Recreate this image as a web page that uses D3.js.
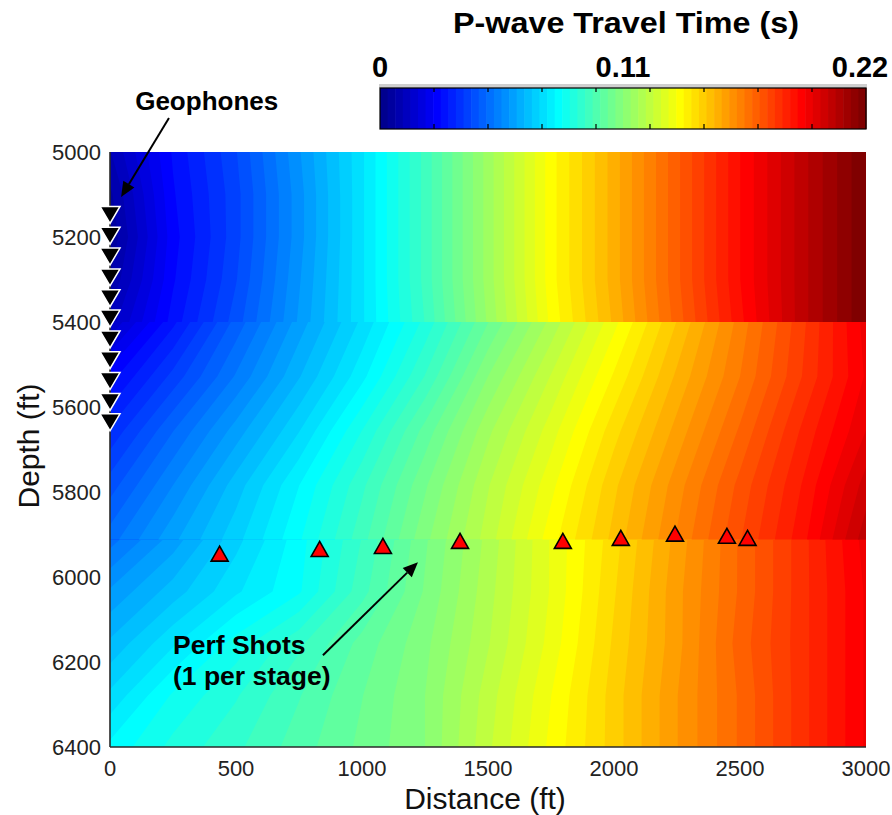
<!DOCTYPE html>
<html>
<head>
<meta charset="utf-8">
<script src="https://cdn.jsdelivr.net/npm/d3@7"></script>
<style>
  html, body { margin: 0; padding: 0; background: #fff; }
  svg { display: block; }
  text { font-family: "Liberation Sans", Arial, Helvetica, sans-serif; }
</style>
</head>
<body>
<svg id="chart" width="892" height="815"></svg>
<script>
// ---------------- data ----------------
const distanceFt = [0, 250, 500, 750, 1000, 1250, 1500, 1750, 2000, 2250, 2500, 2750, 3000];

// upper layer travel times (s), rows = depths
const upperDepths = [5000, 5100, 5200, 5300, 5400];
const upperTimes = [
  [0.010, 0.028, 0.041, 0.058, 0.075, 0.094, 0.115, 0.136, 0.153, 0.171, 0.189, 0.205, 0.220],
  [0.006, 0.027, 0.040, 0.057, 0.075, 0.094, 0.115, 0.136, 0.153, 0.171, 0.189, 0.205, 0.220],
  [0.004, 0.026, 0.040, 0.057, 0.075, 0.094, 0.115, 0.136, 0.153, 0.171, 0.189, 0.205, 0.220],
  [0.007, 0.027, 0.041, 0.058, 0.075, 0.094, 0.115, 0.136, 0.153, 0.171, 0.189, 0.205, 0.220],
  [0.012, 0.029, 0.043, 0.059, 0.075, 0.093, 0.114, 0.135, 0.152, 0.170, 0.188, 0.205, 0.220]
];

// middle layer
const middleDepths = [5400, 5528, 5656, 5784, 5912];
const middleTimes = [
  [0.014, 0.030, 0.046, 0.060, 0.073, 0.087, 0.103, 0.118, 0.133, 0.148, 0.163, 0.178, 0.194],
  [0.026, 0.039, 0.052, 0.065, 0.078, 0.093, 0.110, 0.124, 0.138, 0.152, 0.165, 0.179, 0.193],
  [0.035, 0.048, 0.060, 0.072, 0.086, 0.101, 0.116, 0.129, 0.143, 0.156, 0.169, 0.183, 0.196],
  [0.043, 0.055, 0.067, 0.079, 0.092, 0.106, 0.120, 0.133, 0.147, 0.160, 0.173, 0.186, 0.201],
  [0.050, 0.061, 0.071, 0.082, 0.095, 0.109, 0.122, 0.136, 0.149, 0.162, 0.175, 0.188, 0.205]
];

// lower layer
const lowerDepths = [5912, 6034, 6156, 6278, 6400];
const lowerTimes = [
  [0.050, 0.060, 0.071, 0.081, 0.093, 0.106, 0.118, 0.131, 0.143, 0.156, 0.169, 0.181, 0.194],
  [0.059, 0.067, 0.075, 0.082, 0.095, 0.107, 0.119, 0.131, 0.144, 0.157, 0.169, 0.181, 0.193],
  [0.066, 0.075, 0.084, 0.092, 0.101, 0.109, 0.120, 0.132, 0.145, 0.157, 0.170, 0.181, 0.193],
  [0.073, 0.083, 0.089, 0.096, 0.103, 0.110, 0.122, 0.134, 0.146, 0.158, 0.169, 0.181, 0.193],
  [0.080, 0.087, 0.092, 0.098, 0.104, 0.110, 0.123, 0.135, 0.146, 0.158, 0.169, 0.181, 0.193]
];

const geophoneDistance = [0, 0, 0, 0, 0, 0, 0, 0, 0, 0, 0];
const geophoneDepths = [5148, 5197, 5246, 5295, 5344, 5392, 5441, 5490, 5539, 5588, 5636];

const shotDistances = [435, 832, 1083, 1389, 1797, 2027, 2242, 2448, 2530];
const shotDepths = [5945, 5934, 5927, 5915, 5915, 5908, 5898, 5903, 5908];

const xTicks = [0, 500, 1000, 1500, 2000, 2500, 3000];
const yTicks = [5000, 5200, 5400, 5600, 5800, 6000, 6200, 6400];
const colorbarTicks = [0, 0.11, 0.22];
const timeMax = 0.22;
const nLevels = 64;

// ---------------- helpers ----------------
// MATLAB jet(64)
const jetU = [
  ...d3.range(1, 17).map(i => i / 16),
  ...Array(15).fill(1),
  ...d3.range(16, 0, -1).map(i => i / 16)
];
function jet64(k) {
  const i = k + 1;
  const get = idx => (idx >= 1 && idx <= jetU.length) ? jetU[idx - 1] : 0;
  return d3.rgb(255 * get(i - 24), 255 * get(i - 8), 255 * get(i + 8)).formatHex();
}

const svg = d3.select("#chart");
const x = d3.scaleLinear().domain([0, 3000]).range([110, 866]);
const y = d3.scaleLinear().domain([5000, 6400]).range([152, 747]);

const step = timeMax / nLevels;
const levels = d3.range(nLevels).map(k => k * step);

// detect sample placement convention of d3.contours
const probe = d3.contours().size([2, 1]).thresholds([0.5])([0, 1]);
let probeMin = Infinity;
probe[0].coordinates.forEach(poly => poly.forEach(ring => ring.forEach(p => { if (p[0] < probeMin) probeMin = p[0]; })));
const sampleOffset = probeMin - 0.5;

const defs = svg.append("defs");
const field = svg.append("g");

const layers = [
  { name: "lower", depths: lowerDepths, times: lowerTimes, extendTop: 1.2 },
  { name: "middle", depths: middleDepths, times: middleTimes, extendTop: 1.2 },
  { name: "upper", depths: upperDepths, times: upperTimes, extendTop: 0 }
];

layers.forEach(L => {
  const nx = distanceFt.length, ny = L.depths.length;
  const values = L.times.flat();
  const cs = d3.contours().size([nx, ny]).thresholds(levels)(values);
  const dX = distanceFt[1] - distanceFt[0];
  const dZ = (L.depths[ny - 1] - L.depths[0]) / (ny - 1);
  const proj = d3.geoTransform({
    point: function (px, py) {
      this.stream.point(
        x(distanceFt[0] + (px - sampleOffset) * dX),
        y(L.depths[0] + (py - sampleOffset) * dZ)
      );
    }
  });
  const path = d3.geoPath(proj);
  const clipId = "clip-" + L.name;
  const top = y(L.depths[0]) - L.extendTop;
  defs.append("clipPath").attr("id", clipId)
    .append("rect")
    .attr("x", x(0)).attr("y", top)
    .attr("width", x(3000) - x(0))
    .attr("height", y(L.depths[ny - 1]) - top);
  field.append("g").attr("clip-path", `url(#${clipId})`)
    .selectAll("path").data(cs).join("path")
    .attr("d", path)
    .attr("fill", d => jet64(Math.min(nLevels - 1, Math.round(d.value / step))))
    .attr("stroke", "none");
});

// axes lines
svg.append("line").attr("x1", x(0)).attr("x2", x(0)).attr("y1", y(5000)).attr("y2", y(6400))
  .attr("stroke", "#2a2a2a").attr("stroke-width", 1.6);
svg.append("line").attr("x1", x(0)).attr("x2", x(3000)).attr("y1", y(6400)).attr("y2", y(6400))
  .attr("stroke", "#2a2a2a").attr("stroke-width", 1.6);

// tick labels
svg.append("g").selectAll("text").data(xTicks).join("text")
  .attr("x", d => x(d)).attr("y", 776)
  .attr("text-anchor", "middle").attr("font-size", 22).attr("fill", "#222")
  .text(d => d);
svg.append("g").selectAll("text").data(yTicks).join("text")
  .attr("x", 101).attr("y", d => y(d)).attr("dy", "0.36em")
  .attr("text-anchor", "end").attr("font-size", 22).attr("fill", "#222")
  .text(d => d);

// axis titles
svg.append("text").attr("x", 485).attr("y", 809).attr("text-anchor", "middle")
  .attr("font-size", 30).attr("fill", "#111").text("Distance (ft)");
svg.append("text").attr("transform", "translate(39,446) rotate(-90)").attr("text-anchor", "middle")
  .attr("font-size", 30).attr("fill", "#111").text("Depth (ft)");

// geophones (downward triangles)
const gw = 20, gh = 17;
svg.append("g").selectAll("path").data(geophoneDepths).join("path")
  .attr("transform", (d, i) => `translate(${x(geophoneDistance[i])},${y(d)})`)
  .attr("d", `M${-gw / 2},${-gh / 2}L${gw / 2},${-gh / 2}L0,${gh / 2}Z`)
  .attr("fill", "#000").attr("stroke", "#fff").attr("stroke-width", 1.5).attr("stroke-linejoin", "miter");

// perf shots (upward red triangles)
const sw = 17, sh = 15;
svg.append("g").selectAll("path").data(shotDistances).join("path")
  .attr("transform", (d, i) => `translate(${x(d)},${y(shotDepths[i])})`)
  .attr("d", `M${-sw / 2},${sh / 2}L${sw / 2},${sh / 2}L0,${-sh / 2}Z`)
  .attr("fill", "#ff0000").attr("stroke", "#000").attr("stroke-width", 1.6).attr("stroke-linejoin", "miter");

// annotation arrows (in data units)
function arrow(fromD, fromZ, toD, toZ) {
  const x1 = x(fromD), y1 = y(fromZ), x2 = x(toD), y2 = y(toZ);
  const ang = Math.atan2(y2 - y1, x2 - x1);
  const hl = 15, hw = 6.5;
  const bx = x2 - hl * Math.cos(ang), by = y2 - hl * Math.sin(ang);
  svg.append("line").attr("x1", x1).attr("y1", y1).attr("x2", bx).attr("y2", by)
    .attr("stroke", "#000").attr("stroke-width", 2);
  const px = -Math.sin(ang), py = Math.cos(ang);
  svg.append("path")
    .attr("d", `M${x2},${y2}L${bx + hw * px},${by + hw * py}L${bx - hw * px},${by - hw * py}Z`)
    .attr("fill", "#000");
}
arrow(234, 4920, 44, 5106);
arrow(845, 6184, 1222, 5965);

svg.append("text").attr("x", x(100)).attr("y", 110).attr("font-size", 26).attr("font-weight", "bold")
  .attr("fill", "#000").text("Geophones");
svg.append("text").attr("x", 173).attr("y", 654).attr("font-size", 26.5).attr("font-weight", "bold")
  .attr("fill", "#000").text("Perf Shots");
svg.append("text").attr("x", 173).attr("y", 685).attr("font-size", 26.5).attr("font-weight", "bold")
  .attr("fill", "#000").text("(1 per stage)");

// ---------------- colorbar ----------------
const cb = { x0: 380, x1: 866, y0: 88, y1: 129 };
const cbScale = d3.scaleLinear().domain([0, timeMax]).range([cb.x0, cb.x1]);
const cbBand = d3.scaleBand().domain(d3.range(nLevels)).range([cb.x0, cb.x1]);
svg.append("rect").attr("x", cb.x0 - 1).attr("y", cb.y0 - 4).attr("width", cb.x1 - cb.x0 + 2).attr("height", 4)
  .attr("fill", "#cfcfcf");
svg.append("g").selectAll("rect").data(d3.range(nLevels)).join("rect")
  .attr("x", d => cbBand(d)).attr("y", cb.y0)
  .attr("width", cbBand.bandwidth() + 0.6).attr("height", cb.y1 - cb.y0)
  .attr("fill", d => jet64(d));
// minor ticks (9 divisions)
const minor = d3.range(1, 9).map(k => k * timeMax / 9);
svg.append("g").selectAll("line").data(minor).join("line")
  .attr("x1", d => cbScale(d)).attr("x2", d => cbScale(d))
  .attr("y1", cb.y1).attr("y2", cb.y1 - 5).attr("stroke", "#000").attr("stroke-width", 1.2);
svg.append("g").selectAll("line").data(minor).join("line")
  .attr("x1", d => cbScale(d)).attr("x2", d => cbScale(d))
  .attr("y1", cb.y0).attr("y2", cb.y0 + 4).attr("stroke", "#000").attr("stroke-width", 1.2);
svg.append("rect").attr("x", cb.x0).attr("y", cb.y0).attr("width", cb.x1 - cb.x0).attr("height", cb.y1 - cb.y0)
  .attr("fill", "none").attr("stroke", "#000").attr("stroke-width", 1.2);

svg.append("g").selectAll("text").data(colorbarTicks).join("text")
  .attr("x", (d, i) => i === 2 ? cbScale(d) - 6 : cbScale(d))
  .attr("y", 77).attr("text-anchor", "middle")
  .attr("font-size", 29).attr("font-weight", "bold").attr("fill", "#000")
  .text(d => d === 0 ? "0" : d.toFixed(2));
svg.append("text").attr("x", 626).attr("y", 33).attr("text-anchor", "middle")
  .attr("font-size", 29).attr("font-weight", "bold").attr("fill", "#000")
  .attr("textLength", 346).attr("lengthAdjust", "spacingAndGlyphs")
  .text("P-wave Travel Time (s)");
</script>
</body>
</html>
